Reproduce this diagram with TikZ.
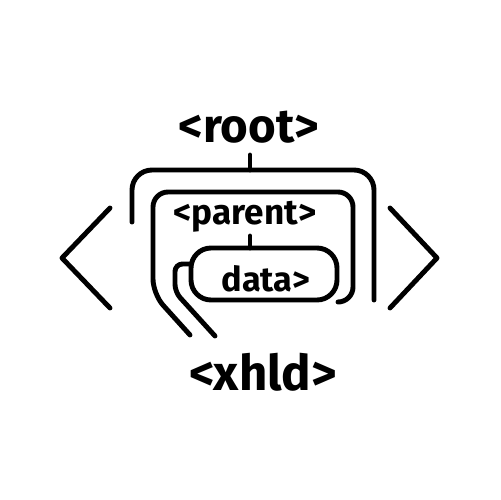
\documentclass[tikz,border=0pt]{standalone}
\usepackage{fontspec}
\setmainfont{Fira Sans}
\usepackage{tikz}
\usetikzlibrary{positioning,calc}

\tikzset{
  frame/.style={line width=2.8pt, line cap=round, line join=round},
  tag/.style={inner sep=0pt, font=\bfseries}
}

\begin{document}
\begin{tikzpicture}[x=0.02cm, y=-0.02cm]
        \useasboundingbox (0,0) rectangle (500,500);

        % Tags
        \node[tag, font=\bfseries\fontsize{27}{27}\selectfont] (root) at (249,127) {<root>};
        \node[tag, font=\bfseries\fontsize{20}{20}\selectfont] (parent) at (245,217) {<parent>};
        \node[tag, font=\bfseries\fontsize{19.5}{19.5}\selectfont] (data) at (266,279) {data>};
        \node[tag, font=\bfseries\fontsize{28}{28}\selectfont] (child) at (263,372) {<xhld>};

        % Stems
        \coordinate (rootstem) at (250,155);
        \coordinate (parentstem) at (250,236);
        \draw[frame] (rootstem) -- (250,170);
        \draw[frame] (parentstem) -- (250,248);

        % Outer frame
        \draw[frame, rounded corners=0.4cm] (132,222) -- (132,170) -- (374,170) -- (374,300);

        % Parent frame
        \draw[frame, rounded corners=0.3cm] (190,335) -- (153,294) -- (153,192) -- (353,192) -- (353,302) -- (340,302);

        % Data box
        \draw[frame, rounded corners=0.4cm] (191,248) rectangle (337,300);
        \draw[frame, rounded corners=0.15cm] (191,264) -- (175,264) -- (175,292) -- (215,336);

        % Big brackets
        \draw[frame] (110,208) -- (62,258) -- (110,308);
        \draw[frame] (390,208) -- (437,258) -- (390,308);
      \end{tikzpicture}
\end{document}
